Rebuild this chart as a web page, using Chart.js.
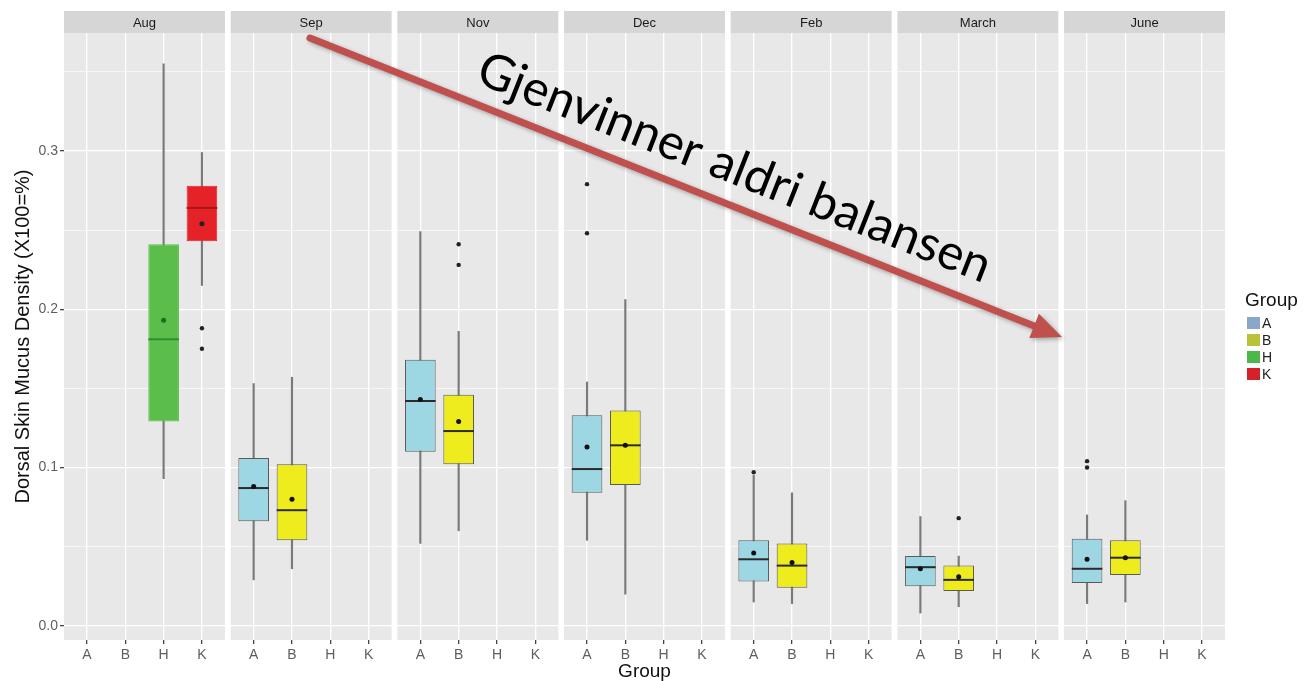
<!DOCTYPE html>
<html>
<head>
<meta charset="utf-8">
<script src="https://cdn.jsdelivr.net/npm/chart.js@4.4.1/dist/chart.umd.min.js"></script>
<style>
html, body { margin: 0; padding: 0; background: #fff; }
#wrap { width: 1312px; height: 681px; }
</style>
</head>
<body>
<div id="wrap"><canvas id="chart"></canvas></div>
<script>
// facets and groups
const months = ['Aug', 'Sep', 'Nov', 'Dec', 'Feb', 'March', 'June'];
const groups = ['A', 'B', 'H', 'K'];
const yMajorTicks = [0, 0.1, 0.2, 0.3];
const yMinorTicks = [0.05, 0.15, 0.25, 0.35];

// one entry per box
const boxMonth = ['Aug', 'Aug', 'Sep', 'Sep', 'Nov', 'Nov', 'Dec', 'Dec', 'Feb', 'Feb', 'March', 'March', 'June', 'June'];
const boxGroup = ['H', 'K', 'A', 'B', 'A', 'B', 'A', 'B', 'A', 'B', 'A', 'B', 'A', 'B'];
const whiskerLow  = [0.093, 0.215, 0.029, 0.036, 0.052, 0.060, 0.054, 0.020, 0.015, 0.014, 0.008, 0.012, 0.014, 0.015];
const q1          = [0.129, 0.243, 0.066, 0.054, 0.110, 0.102, 0.084, 0.089, 0.028, 0.024, 0.025, 0.022, 0.027, 0.032];
const median      = [0.181, 0.264, 0.087, 0.073, 0.142, 0.123, 0.099, 0.114, 0.042, 0.038, 0.037, 0.029, 0.036, 0.043];
const q3          = [0.241, 0.278, 0.106, 0.102, 0.168, 0.146, 0.133, 0.136, 0.054, 0.052, 0.044, 0.038, 0.055, 0.054];
const whiskerHigh = [0.355, 0.299, 0.153, 0.157, 0.249, 0.186, 0.154, 0.206, 0.095, 0.084, 0.069, 0.044, 0.070, 0.079];
const means       = [0.193, 0.254, 0.088, 0.080, 0.143, 0.129, 0.113, 0.114, 0.046, 0.040, 0.036, 0.031, 0.042, 0.043];

// outliers
const outlierMonth = ['Aug', 'Aug', 'Nov', 'Nov', 'Dec', 'Dec', 'Feb', 'March', 'June', 'June'];
const outlierGroup = ['K', 'K', 'B', 'B', 'A', 'A', 'A', 'B', 'A', 'A'];
const outlierValue = [0.188, 0.175, 0.241, 0.228, 0.279, 0.248, 0.097, 0.068, 0.104, 0.100];

// styles
const fillColor   = { A: '#9dd7e3', B: '#efec1d', H: '#5bbd4a', K: '#e42228' };
const lineColor   = { A: '#5a5a5a', B: '#5a5a5a', H: '#5bbd4a', K: '#e42228' };
const medianColor = { A: '#2b2b2b', B: '#2b2b2b', H: '#2f8f2f', K: '#a8151a' };
const meanColor   = { A: '#111111', B: '#111111', H: '#1c6e1c', K: '#222222' };
const keyColor    = { A: '#8aa6c9', B: '#b9c33a', H: '#4cb84a', K: '#d2232a' };

const PANEL_STEP = 4.35;
const PANEL_WIDTH = 4.2;
const PANEL_PAD = 0.6;
const X_MAX = (months.length - 1) * PANEL_STEP + PANEL_WIDTH;

function xPos(month, group) {
    return months.indexOf(month) * PANEL_STEP + PANEL_PAD + groups.indexOf(group);
}

const xTickValues = months.flatMap((m) => groups.map((g) => xPos(m, g)));
const yTickValues = [...yMajorTicks, ...yMinorTicks].sort((a, b) => a - b);
const isMajor = (v) => yMajorTicks.some((t) => Math.abs(t - v) < 1e-9);

const facetPlugin = {
    id: 'facets',
    beforeDraw(chart) {
        const { ctx, chartArea, scales: { x } } = chart;
        ctx.save();
        months.forEach((m, p) => {
            const left = x.getPixelForValue(p * PANEL_STEP);
            const right = x.getPixelForValue(p * PANEL_STEP + PANEL_WIDTH);
            ctx.fillStyle = '#e8e8e8';
            ctx.fillRect(left, chartArea.top, right - left, chartArea.bottom - chartArea.top);
            ctx.fillStyle = '#d6d6d6';
            ctx.fillRect(left, 11, right - left, chartArea.top - 11);
            ctx.fillStyle = '#1a1a1a';
            ctx.font = '13px "Liberation Sans"';
            ctx.textAlign = 'center';
            ctx.textBaseline = 'middle';
            ctx.fillText(m, (left + right) / 2, (11 + chartArea.top) / 2 + 1);
        });
        ctx.restore();
    },
    afterDraw(chart) {
        const { ctx } = chart;
        ctx.save();
        // legend
        ctx.fillStyle = '#111';
        ctx.font = '19px "Liberation Sans"';
        ctx.textAlign = 'left';
        ctx.textBaseline = 'middle';
        ctx.fillText('Group', 1245, 301);
        ctx.font = '14px "Liberation Sans"';
        groups.forEach((g, i) => {
            const cy = 323 + i * 17;
            ctx.fillStyle = keyColor[g];
            ctx.fillRect(1247, cy - 6, 13, 12);
            ctx.fillStyle = '#222';
            ctx.fillText(g, 1262, cy + 1);
        });

        // arrow
        const x0 = 310, y0 = 38, x1 = 1062, y1 = 337;
        const ang = Math.atan2(y1 - y0, x1 - x0);
        const head = 30, half = 13;
        const bx = x1 - Math.cos(ang) * head, by = y1 - Math.sin(ang) * head;
        ctx.shadowColor = 'rgba(0,0,0,0.3)';
        ctx.shadowBlur = 4;
        ctx.shadowOffsetX = 2;
        ctx.shadowOffsetY = 2;
        ctx.strokeStyle = '#c0504d';
        ctx.lineWidth = 7;
        ctx.lineCap = 'round';
        ctx.beginPath();
        ctx.moveTo(x0, y0);
        ctx.lineTo(bx, by);
        ctx.stroke();
        ctx.fillStyle = '#c0504d';
        ctx.beginPath();
        ctx.moveTo(x1, y1);
        ctx.lineTo(bx + Math.sin(ang) * half, by - Math.cos(ang) * half);
        ctx.lineTo(bx - Math.sin(ang) * half, by + Math.cos(ang) * half);
        ctx.closePath();
        ctx.fill();
        ctx.shadowColor = 'transparent';

        // annotation text
        const label = 'Gjenvinner aldri balansen';
        ctx.font = '100px Lato';
        const size = 100 * 547 / ctx.measureText(label).width;
        ctx.font = size.toFixed(1) + 'px Lato';
        ctx.translate(474, 82);
        ctx.rotate(Math.atan2(201, 509));
        ctx.fillStyle = '#000';
        ctx.textBaseline = 'alphabetic';
        ctx.fillText(label, 0, 0);
        ctx.restore();
    }
};

Chart.defaults.font.family = '"Liberation Sans", Arial, sans-serif';

new Chart(document.getElementById('chart'), {
    type: 'bar',
    data: {
        datasets: [
            {
                label: 'whiskers',
                order: 5,
                grouped: false,
                data: boxMonth.map((m, i) => ({ x: xPos(m, boxGroup[i]), y: [whiskerLow[i], whiskerHigh[i]] })),
                backgroundColor: '#7a7a7a',
                barThickness: 1.5
            },
            {
                label: 'boxes',
                order: 4,
                grouped: false,
                data: boxMonth.map((m, i) => ({ x: xPos(m, boxGroup[i]), y: [q1[i], q3[i]] })),
                backgroundColor: boxGroup.map((g) => fillColor[g]),
                borderColor: boxGroup.map((g) => lineColor[g]),
                borderWidth: 1,
                borderSkipped: false,
                barPercentage: 0.8,
                categoryPercentage: 1
            },
            {
                type: 'scatter',
                label: 'median',
                order: 3,
                data: boxMonth.map((m, i) => ({ x: xPos(m, boxGroup[i]), y: median[i] })),
                pointStyle: 'line',
                pointRadius: 15.3,
                pointBorderWidth: 2,
                pointBorderColor: boxGroup.map((g) => medianColor[g])
            },
            {
                type: 'scatter',
                label: 'mean',
                order: 2,
                data: boxMonth.map((m, i) => ({ x: xPos(m, boxGroup[i]), y: means[i] })),
                pointRadius: 2.5,
                pointBorderWidth: 0,
                pointBackgroundColor: boxGroup.map((g) => meanColor[g])
            },
            {
                type: 'scatter',
                label: 'outliers',
                order: 1,
                data: outlierMonth.map((m, i) => ({ x: xPos(m, outlierGroup[i]), y: outlierValue[i] })),
                pointRadius: 2.2,
                pointBorderWidth: 0,
                pointBackgroundColor: '#222'
            }
        ]
    },
    options: {
        responsive: true,
        maintainAspectRatio: false,
        animation: false,
        events: [],
        layout: { padding: { top: 33, right: 87, left: 0, bottom: 0 } },
        plugins: {
            legend: { display: false },
            tooltip: { enabled: false }
        },
        scales: {
            x: {
                type: 'linear',
                offset: false,
                min: 0,
                max: X_MAX,
                afterBuildTicks: (axis) => { axis.ticks = xTickValues.map((v) => ({ value: v })); },
                afterFit: (axis) => { axis.height = 41; },
                ticks: {
                    autoSkip: false,
                    maxRotation: 0,
                    padding: 3,
                    color: '#5e5e5e',
                    font: { size: 14 },
                    callback: (value, index) => groups[index % groups.length]
                },
                grid: { offset: false, color: '#ffffff', lineWidth: 1.3, tickLength: 4, tickColor: '#444' },
                border: { display: false },
                title: {
                    display: true,
                    text: 'Group',
                    color: '#111',
                    font: { size: 19, lineHeight: 1 },
                    padding: { top: 0, bottom: 0 }
                }
            },
            y: {
                min: -0.009,
                max: 0.3745,
                afterBuildTicks: (axis) => { axis.ticks = yTickValues.map((v) => ({ value: v })); },
                afterFit: (axis) => { axis.width = 64; },
                ticks: {
                    padding: 2,
                    color: '#5e5e5e',
                    font: { size: 14 },
                    callback: (value) => isMajor(value) ? value.toFixed(1) : ''
                },
                grid: {
                    color: '#ffffff',
                    lineWidth: (ctx) => isMajor(ctx.tick.value) ? 1.3 : 0.6,
                    tickLength: 4,
                    tickColor: (ctx) => isMajor(ctx.tick.value) ? '#444' : 'rgba(0,0,0,0)'
                },
                border: { display: false },
                title: {
                    display: true,
                    text: 'Dorsal Skin Mucus Density (X100=%)',
                    color: '#111',
                    font: { size: 20 },
                    padding: { top: 11, bottom: 0 }
                }
            }
        }
    },
    plugins: [facetPlugin]
});
</script>
</body>
</html>
